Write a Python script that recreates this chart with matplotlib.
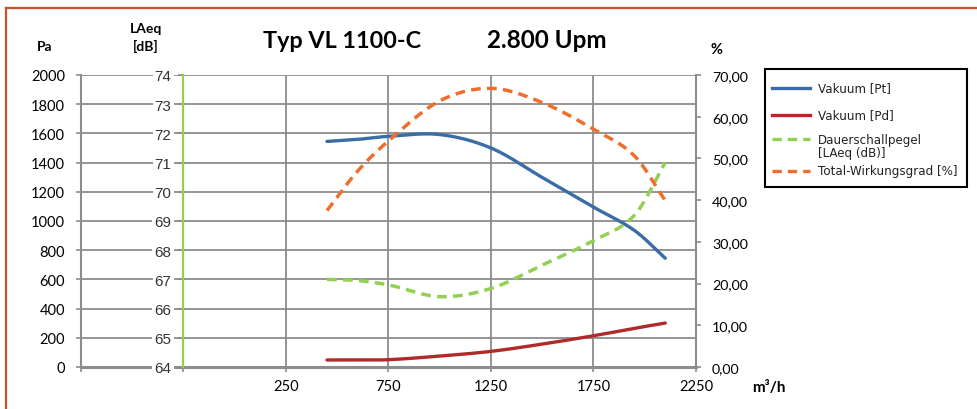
import numpy as np
import matplotlib
matplotlib.use("Agg")
import matplotlib.pyplot as plt
from matplotlib.lines import Line2D
from matplotlib.patches import Rectangle
from matplotlib.ticker import FixedLocator, FuncFormatter

# ---------------- data ----------------
flow = [450, 600, 750, 1000, 1250, 1500, 1750, 1950, 2100]          # m3/h
vakuum_pt = [1545, 1559, 1580, 1592, 1500, 1298, 1095, 935, 745]    # Pa
vakuum_pd = [48, 49, 50, 75, 107, 157, 214, 265, 301]               # Pa
laeq = [67.0, 66.96, 66.81, 66.41, 66.69, 67.49, 68.33, 69.2, 71.0] # dB
wirkungsgrad = [37.5, 47.0, 54.2, 63.8, 66.8, 63.4, 57.0, 50.6, 39.9]  # %

x_ticks = [-750, -250, 250, 750, 1250, 1750, 2250]
pa_ticks = list(range(0, 2001, 200))
db_ticks = list(range(64, 75))
pct_ticks = list(range(0, 71, 10))

series_names = ["Vakuum [Pt]", "Vakuum [Pd]", "Dauerschallpegel\n[LAeq (dB)]", "Total-Wirkungsgrad [%]"]
title_left = "Typ VL 1100-C"
title_right = "2.800 Upm"

# ---------------- helpers ----------------
def smooth(x, y, n=40):
    x = np.asarray(x, float); y = np.asarray(y, float)
    m = np.empty_like(y)
    m[1:-1] = (y[2:] - y[:-2]) / (x[2:] - x[:-2])
    m[0] = (y[1] - y[0]) / (x[1] - x[0])
    m[-1] = (y[-1] - y[-2]) / (x[-1] - x[-2])
    xs, ys = [], []
    for i in range(len(x) - 1):
        h = x[i + 1] - x[i]
        t = np.linspace(0, 1, n, endpoint=(i == len(x) - 2))
        h00 = 2*t**3 - 3*t**2 + 1; h10 = t**3 - 2*t**2 + t
        h01 = -2*t**3 + 3*t**2; h11 = t**3 - t**2
        xs.append(x[i] + t*h)
        ys.append(h00*y[i] + h10*h*m[i] + h01*y[i+1] + h11*h*m[i+1])
    return np.concatenate(xs), np.concatenate(ys)

W, H = 978, 410
fig = plt.figure(figsize=(W/100, H/100), dpi=100)
def fx(px): return px / W
def fy(py): return 1 - py / H

GRID = "#8c8c8c"
BLUE = "#3a6ca8"
RED = "#b02a2a"
GREEN = "#92d050"
ORANGE = "#ee6e2e"
CAL = "Lato"
DASH = (0, (2.8, 1.8))

L, R, T, B = 81, 696, 76, 368
ax = fig.add_axes([fx(L), fy(B), fx(R) - fx(L), fy(T) - fy(B)])
ax.set_xlim(-750, 2250)
ax.set_ylim(0, 2000)
ax.xaxis.set_major_locator(FixedLocator(x_ticks))
ax.yaxis.set_major_locator(FixedLocator(pa_ticks))
ax.xaxis.set_major_formatter(FuncFormatter(lambda v, p: f"{int(v)}" if v > 0 else ""))
ax.grid(True, color=GRID, lw=1.3, zorder=0)
ax.set_axisbelow(True)
for s in ["top", "right"]:
    ax.spines[s].set_visible(False)
ax.spines["left"].set_color(GRID); ax.spines["left"].set_linewidth(1.5)
ax.spines["bottom"].set_color(GRID); ax.spines["bottom"].set_linewidth(2.2)
ax.tick_params(axis="both", colors=GRID, length=3.6, width=1.2, direction="out", labelcolor="black")
ax.tick_params(axis="y", pad=8)
ax.tick_params(axis="x", pad=5)
for lab in ax.get_xticklabels() + ax.get_yticklabels():
    lab.set_fontfamily(CAL); lab.set_fontsize(10.5)

xs, ys = smooth(flow, vakuum_pt)
ax.plot(xs, ys, color=BLUE, lw=2.4, solid_capstyle="round", zorder=3)
xs, ys = smooth(flow, vakuum_pd)
ax.plot(xs, ys, color=RED, lw=2.4, solid_capstyle="round", zorder=3)

# LAeq axis
ax2 = ax.twinx()
ax2.set_ylim(64, 74)
ax2.yaxis.set_major_locator(FixedLocator(db_ticks))
ax2.yaxis.set_ticks_position("left")
ax2.yaxis.set_label_position("left")
ax2.spines["left"].set_position(("data", -250))
ax2.spines["left"].set_color(GREEN); ax2.spines["left"].set_linewidth(1.6)
for s in ["top", "right", "bottom"]:
    ax2.spines[s].set_visible(False)
ax2.tick_params(axis="y", colors=GRID, length=3.6, width=1.2, direction="out", labelcolor="#333333", pad=5)
for lab in ax2.get_yticklabels():
    lab.set_fontfamily("Liberation Sans"); lab.set_fontsize(11)
xs, ys = smooth(flow, laeq)
ax2.plot(xs, ys, color=GREEN, lw=2.5, ls=DASH, zorder=3)

# % axis
ax3 = ax.twinx()
ax3.set_ylim(0, 70)
ax3.yaxis.set_major_locator(FixedLocator(pct_ticks))
ax3.yaxis.set_major_formatter(FuncFormatter(lambda v, p: f"{v:.2f}".replace(".", ",")))
for s in ["top", "left", "bottom"]:
    ax3.spines[s].set_visible(False)
ax3.spines["right"].set_color(GRID); ax3.spines["right"].set_linewidth(1.5)
ax3.tick_params(axis="y", colors=GRID, length=3.6, width=1.2, direction="out", labelcolor="black", pad=8)
for lab in ax3.get_yticklabels():
    lab.set_fontfamily(CAL); lab.set_fontsize(10.3)
xs, ys = smooth(flow, wirkungsgrad)
ax3.plot(xs, ys, color=ORANGE, lw=2.5, ls=DASH, zorder=3)

fig.canvas.draw()
for lab in ax2.get_yticklabels():
    lab.set_bbox(dict(facecolor="white", edgecolor="none", pad=1.5))

# titles / axis labels
fig.text(fx(263), fy(41), title_left, fontfamily=CAL, fontweight="bold", fontsize=16.8, va="center", ha="left")
fig.text(fx(487), fy(41), title_right, fontfamily=CAL, fontweight="bold", fontsize=17.5, va="center", ha="left")
fig.text(fx(45), fy(47), "Pa", fontfamily=CAL, fontweight="bold", fontsize=10, ha="center", va="center")
fig.text(fx(146), fy(38), "LAeq\n[dB]", fontfamily=CAL, fontweight="bold", fontsize=10, ha="center", va="center", linespacing=1.4)
fig.text(fx(717), fy(50), "%", fontfamily=CAL, fontweight="bold", fontsize=10.5, ha="center", va="center")
fig.text(fx(752), fy(388), "m³/h", fontfamily=CAL, fontweight="bold", fontsize=11, ha="left", va="center")

# legend (manual box)
fig.patches.append(Rectangle((fx(765), fy(188)), fx(967) - fx(765), fy(70) - fy(188),
                             transform=fig.transFigure, facecolor="white", edgecolor="black", lw=1.5))
rows = [(89, BLUE, "-", series_names[0]), (116, RED, "-", series_names[1]),
        (147, GREEN, DASH, series_names[2]), (172, ORANGE, DASH, series_names[3])]
for py, c, ls, name in rows:
    ly = 140 if "\n" in name else py
    fig.lines.append(Line2D([fx(772), fx(810)], [fy(ly), fy(ly)], transform=fig.transFigure,
                            color=c, lw=2.4, ls=ls))
    fig.text(fx(818), fy(py), name, fontfamily="DejaVu Sans", fontsize=8.6, va="center", ha="left",
             color="#222222", linespacing=1.0)

# frame lines (top and left)
BORDER = "#c0552a"
fig.lines.append(Line2D([fx(6), 1], [fy(8.5), fy(8.5)], transform=fig.transFigure, color=BORDER, lw=1.6))
fig.lines.append(Line2D([fx(6.5), fx(6.5)], [fy(8.5), 0], transform=fig.transFigure, color=BORDER, lw=1.6))

fig.savefig("out.png", dpi=100)
